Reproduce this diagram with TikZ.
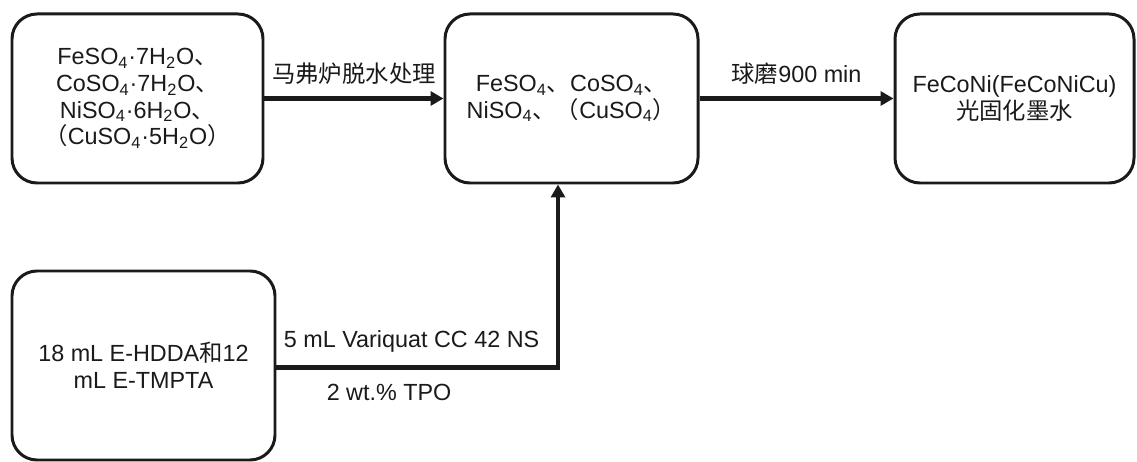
\documentclass[tikz,border=0pt]{standalone}
\usepackage{fontspec}
\setmainfont{Liberation Sans}
\newfontfamily\cjk{Noto Sans CJK SC}
\usetikzlibrary{arrows.meta, positioning}
\definecolor{ink}{HTML}{1A1A1A}

\begin{document}
\begin{tikzpicture}[
    stage/.style={rounded corners=0.5cm, draw=ink, line width=1.7pt, align=center,
                  font=\fontsize{13.3}{15.2}\selectfont, text=ink},
    flow/.style={-{Triangle[length=2.6mm, width=2.8mm]}, ink, line width=2.3pt},
    lbl/.style={font=\fontsize{13.3}{15.2}\selectfont, text=ink}
  ]
    \node[stage, minimum width=5.02cm, minimum height=3.38cm] (salt) at (2.75,-1.97)
      {FeSO\textsubscript{4}·7H\textsubscript{2}O{\cjk 、}\\
       CoSO\textsubscript{4}·7H\textsubscript{2}O{\cjk 、}\\
       NiSO\textsubscript{4}·6H\textsubscript{2}O{\cjk 、}\\
       {\cjk （}CuSO\textsubscript{4}·5H\textsubscript{2}O{\cjk ）}};
    \node[stage, minimum width=5.06cm, minimum height=3.38cm] (dry) at (11.43,-1.97)
      {FeSO\textsubscript{4}{\cjk 、}CoSO\textsubscript{4}{\cjk 、}\\
       NiSO\textsubscript{4}{\cjk 、（}CuSO\textsubscript{4}{\cjk ）}};
    \node[stage, minimum width=4.78cm, minimum height=3.38cm] (ink) at (20.29,-1.97)
      {FeCoNi(FeCoNiCu)\\ {\cjk 光固化墨水}};
    \node[stage, minimum width=5.26cm, minimum height=3.78cm] (resin) at (2.87,-7.31)
      {18 mL E-HDDA{\cjk 和}12\\ mL E-TMPTA};

    \draw[flow] (salt) -- node[above=1.3mm, lbl] {\cjk 马弗炉脱水处理} (dry);
    \draw[flow] (dry) -- node[above=1.3mm, lbl] {{\cjk 球磨}900 min} (ink);
    \draw[flow] ([yshift=-0.04cm]resin.east) -| node[pos=0.24, above=1.5mm, lbl] {5 mL Variquat CC 42 NS}
      node[pos=0.2, below=1.7mm, lbl] {2 wt.\% TPO} ([xshift=-2.7mm]dry.south);
    \useasboundingbox (0,0) rectangle (22.74,-9.06);
\end{tikzpicture}
\end{document}
